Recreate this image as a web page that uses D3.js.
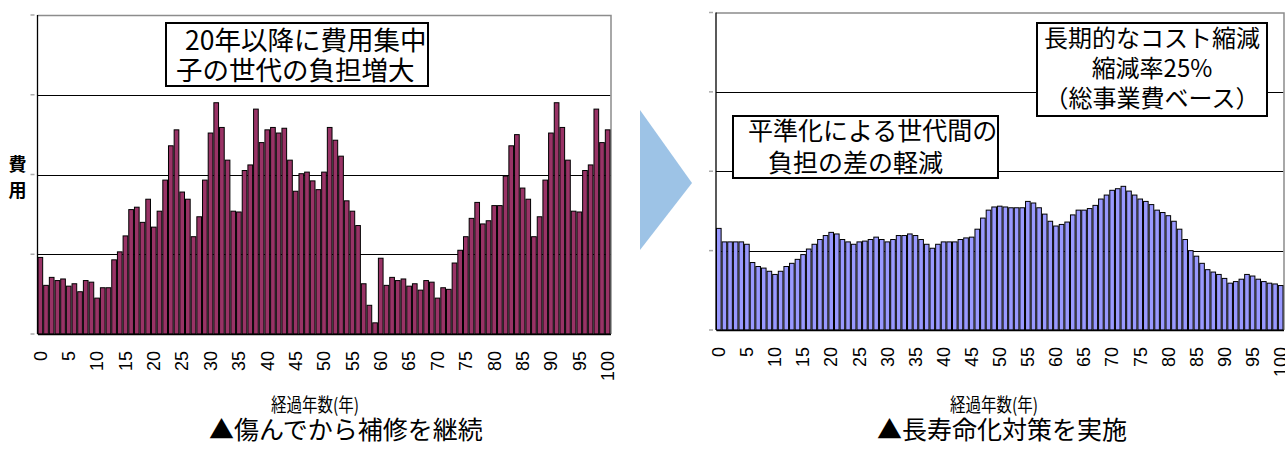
<!DOCTYPE html>
<html>
<head>
<meta charset="UTF-8">
<title>長寿命化対策の効果</title>
<script src="https://cdn.jsdelivr.net/npm/d3@7"></script>
<style>
  body { margin: 0; background: #fff; }
  svg { display: block; background: #fff; }
  .tick-label { font-family: "Liberation Sans", Arial, sans-serif; font-size: 18px; fill: #000; }
  .jp { font-family: "Noto Sans CJK JP", sans-serif; fill: #000; }
</style>
</head>
<body>
<svg id="chart" width="1285" height="451"></svg>
<script>
// categories: years elapsed
var years = d3.range(0, 101);
var tickYears = [0, 5, 10, 15, 20, 25, 30, 35, 40, 45, 50, 55, 60, 65, 70, 75, 80, 85, 90, 95, 100];

// cost per year (in gridline units), repair after damage
var costRepair = [
  0.96, 0.61, 0.71, 0.67, 0.69, 0.60, 0.63, 0.53, 0.67, 0.65,
  0.45, 0.58, 0.58, 0.93, 1.03, 1.23, 1.56, 1.59, 1.40, 1.69,
  1.34, 1.54, 1.93, 2.36, 2.56, 1.78, 1.69, 1.22, 1.47, 1.93,
  2.52, 2.90, 2.59, 2.18, 1.54, 1.53, 2.05, 2.12, 2.82, 2.40,
  2.56, 2.59, 2.52, 2.58, 2.18, 1.79, 2.01, 2.03, 1.92, 1.81,
  2.03, 2.59, 2.43, 2.23, 1.67, 1.54, 1.36, 0.63, 0.36, 0.14,
  0.95, 0.61, 0.71, 0.67, 0.69, 0.60, 0.63, 0.55, 0.67, 0.65,
  0.45, 0.58, 0.56, 0.89, 1.05, 1.22, 1.45, 1.65, 1.38, 1.42,
  1.61, 1.61, 1.98, 2.36, 2.50, 1.83, 1.69, 1.22, 1.47, 1.93,
  2.52, 2.90, 2.59, 2.18, 1.54, 1.53, 2.05, 2.12, 2.82, 2.40,
  2.56
];

// cost per year, long-life plan
var costLongLife = [
  1.28, 1.11, 1.11, 1.11, 1.11, 1.08, 0.85, 0.80, 0.78, 0.74,
  0.70, 0.74, 0.80, 0.84, 0.89, 0.95, 1.02, 1.08, 1.14, 1.19,
  1.23, 1.21, 1.14, 1.11, 1.08, 1.11, 1.12, 1.14, 1.17, 1.14,
  1.11, 1.14, 1.19, 1.19, 1.21, 1.19, 1.14, 1.08, 1.03, 1.08,
  1.11, 1.11, 1.11, 1.14, 1.16, 1.17, 1.27, 1.41, 1.51, 1.55,
  1.56, 1.55, 1.54, 1.54, 1.54, 1.62, 1.60, 1.54, 1.46, 1.37,
  1.31, 1.33, 1.36, 1.45, 1.51, 1.51, 1.53, 1.57, 1.65, 1.70,
  1.76, 1.78, 1.81, 1.75, 1.70, 1.65, 1.62, 1.58, 1.51, 1.48,
  1.44, 1.37, 1.27, 1.14, 1.00, 0.93, 0.84, 0.76, 0.73, 0.70,
  0.65, 0.59, 0.61, 0.64, 0.70, 0.68, 0.64, 0.61, 0.59, 0.58,
  0.56
];

var yTicks = [0, 1, 2, 3, 4];

var svg = d3.select("#chart");

function drawPanel(opt) {
  var g = svg.append("g");

  var x = d3.scaleBand().domain(years).range([opt.left, opt.right]).padding(0);
  var y = d3.scaleLinear().domain([0, 4]).range([opt.bottom, opt.top]);

  // gridlines
  g.selectAll(".grid").data([1, 2, 3]).enter().append("line")
    .attr("class", "grid")
    .attr("x1", opt.left).attr("x2", opt.right)
    .attr("y1", function(d) { return Math.round(y(d)) + 0.5; })
    .attr("y2", function(d) { return Math.round(y(d)) + 0.5; })
    .attr("stroke", "#000").attr("stroke-width", 1);

  // grey frame top / right
  g.append("path")
    .attr("d", "M" + opt.left + "," + (opt.top + 0.5) + "H" + (opt.right + 0.5) + "V" + opt.bottom)
    .attr("fill", "none").attr("stroke", "#8c8c8c").attr("stroke-width", 1.5);

  // bars
  g.selectAll(".bar").data(opt.values).enter().append("rect")
    .attr("class", "bar")
    .attr("x", function(d, i) { return x(years[i]) + 0.5; })
    .attr("y", function(d) { return y(d); })
    .attr("width", x.bandwidth() - 1)
    .attr("height", function(d) { return opt.bottom - y(d); })
    .attr("fill", opt.color)
    .attr("stroke", "#000").attr("stroke-width", 1);

  // y axis line and little grey ticks
  g.append("line")
    .attr("x1", opt.left).attr("x2", opt.left)
    .attr("y1", opt.top).attr("y2", opt.bottom)
    .attr("stroke", "#000").attr("stroke-width", 1.3);
  g.selectAll(".ytick").data(yTicks).enter().append("line")
    .attr("x1", opt.left - 7).attr("x2", opt.left - 3)
    .attr("y1", function(d) { return y(d); })
    .attr("y2", function(d) { return y(d); })
    .attr("stroke", "#aaa").attr("stroke-width", 1.5);

  // x axis with rotated labels
  var xAxis = d3.axisBottom(x).tickValues(tickYears).tickSize(0).tickSizeOuter(0);
  var ax = g.append("g")
    .attr("transform", "translate(0," + opt.bottom + ")")
    .call(xAxis);
  ax.select(".domain").attr("stroke", "#000").attr("stroke-width", 1.5);
  ax.selectAll("text")
    .attr("class", "tick-label")
    .attr("transform", "rotate(-90)")
    .attr("x", -17).attr("y", 0).attr("dy", "0.35em")
    .style("text-anchor", "end");

  // axis title and caption
  svg.append("text").attr("class", "jp")
    .attr("x", opt.titleX).attr("y", 412)
    .attr("text-anchor", "middle")
    .style("font-size", "19px")
    .attr("textLength", 88).attr("lengthAdjust", "spacingAndGlyphs")
    .text("経過年数(年)");
  svg.append("text").attr("class", "jp")
    .attr("x", opt.captionX).attr("y", 439)
    .attr("text-anchor", "middle")
    .style("font-size", "25px")
    .text(opt.caption);

  // annotation boxes
  opt.boxes.forEach(function(b) {
    g.append("rect")
      .attr("x", b.x).attr("y", b.y).attr("width", b.w).attr("height", b.h)
      .attr("fill", "#fff").attr("stroke", "#000").attr("stroke-width", 2);
    b.lines.forEach(function(t, i) {
      g.append("text").attr("class", "jp")
        .attr("x", b.anchor == "middle" ? b.x + b.w / 2 : b.tx[i])
        .attr("y", b.ty[i])
        .attr("text-anchor", b.anchor)
        .style("font-size", b.size + "px")
        .text(t);
    });
  });
}

drawPanel({
  left: 37.5, right: 610.5, top: 15, bottom: 334,
  values: costRepair, color: "#993366",
  titleX: 315, captionX: 346, caption: "▲傷んでから補修を継続",
  boxes: [
    { x: 166, y: 23, w: 262, h: 63, anchor: "start", size: 26.5,
      tx: [185, 176], ty: [50, 80],
      lines: ["20年以降に費用集中", "子の世代の負担増大"] }
  ]
});

drawPanel({
  left: 716, right: 1283.5, top: 12.5, bottom: 330,
  values: costLongLife, color: "#9999ff",
  titleX: 994, captionX: 1002, caption: "▲長寿命化対策を実施",
  boxes: [
    { x: 733, y: 116, w: 265, h: 62, anchor: "start", size: 25,
      tx: [748, 768], ty: [140, 172],
      lines: ["平準化による世代間の", "負担の差の軽減"] },
    { x: 1037, y: 23, w: 230, h: 93, anchor: "middle", size: 24,
      tx: [], ty: [47, 77, 107],
      lines: ["長期的なコスト縮減", "縮減率25%", "（総事業費ベース）"] }
  ]
});

// y label on the left panel
svg.append("text").attr("class", "jp")
  .attr("x", 17.5).attr("y", 171).attr("text-anchor", "middle")
  .style("font-size", "18px").style("font-weight", 700).text("費");
svg.append("text").attr("class", "jp")
  .attr("x", 17.5).attr("y", 197).attr("text-anchor", "middle")
  .style("font-size", "18px").style("font-weight", 700).text("用");

// arrow between panels
svg.append("path")
  .attr("d", d3.line()([[640, 110], [692, 183], [640, 250]]) + "Z")
  .attr("fill", "#9dc3e6");
</script>
</body>
</html>
